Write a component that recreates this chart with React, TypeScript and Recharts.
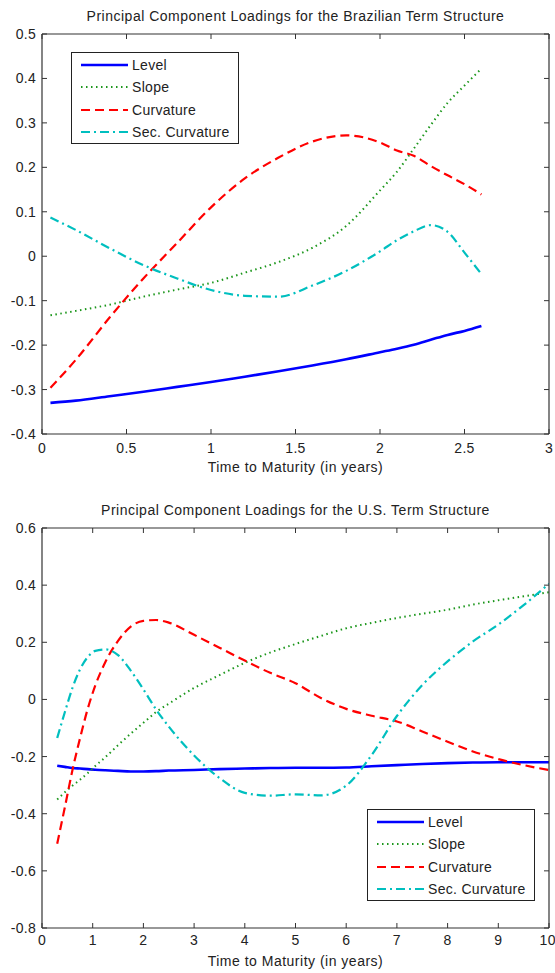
import React from "react";
import { Legend, Line, LineChart, XAxis, YAxis } from "recharts";

// Brazilian term structure loadings (maturity in years)
const brMaturity = [0.05, 0.2, 0.4, 0.6, 0.8, 1.0, 1.2, 1.4, 1.6, 1.8, 2.0, 2.1, 2.2, 2.3, 2.4, 2.5, 2.6];
const brLevel = [-0.33, -0.325, -0.315, -0.305, -0.294, -0.283, -0.271, -0.259, -0.246, -0.232, -0.216, -0.208, -0.199, -0.188, -0.177, -0.168, -0.157];
const brSlope = [-0.133, -0.123, -0.109, -0.091, -0.075, -0.06, -0.037, -0.013, 0.019, 0.068, 0.148, 0.19, 0.242, 0.295, 0.345, 0.384, 0.422];
const brCurvature = [-0.296, -0.233, -0.138, -0.05, 0.03, 0.11, 0.175, 0.222, 0.258, 0.272, 0.256, 0.238, 0.226, 0.203, 0.182, 0.162, 0.139];
const brSecCurvature = [0.087, 0.059, 0.018, -0.02, -0.05, -0.076, -0.089, -0.091, -0.066, -0.033, 0.011, 0.036, 0.056, 0.07, 0.055, 0.008, -0.04];

// U.S. term structure loadings
const usMaturity = [0.3, 0.45, 0.6, 0.75, 0.9, 1.05, 1.25, 1.5, 1.75, 2.0, 2.25, 2.5, 3, 3.5, 4, 4.5, 5, 5.5, 6, 6.5, 7, 7.5, 8, 8.5, 9, 9.5, 10];
const usLevel = [-0.232, -0.236, -0.24, -0.242, -0.244, -0.246, -0.248, -0.25, -0.252, -0.252, -0.251, -0.249, -0.247, -0.244, -0.242, -0.24, -0.239, -0.239, -0.238, -0.234, -0.23, -0.226, -0.223, -0.221, -0.22, -0.22, -0.22];
const usSlope = [-0.35, -0.325, -0.302, -0.281, -0.258, -0.233, -0.202, -0.16, -0.12, -0.082, -0.044, -0.015, 0.04, 0.085, 0.128, 0.164, 0.194, 0.222, 0.249, 0.268, 0.285, 0.3, 0.314, 0.332, 0.347, 0.361, 0.375];
const usCurvature = [-0.505, -0.378, -0.248, -0.136, -0.034, 0.048, 0.131, 0.205, 0.255, 0.275, 0.278, 0.269, 0.226, 0.181, 0.136, 0.093, 0.057, 0.005, -0.033, -0.057, -0.077, -0.112, -0.148, -0.182, -0.209, -0.23, -0.247];
const usSecCurvature = [-0.135, -0.045, 0.04, 0.105, 0.148, 0.17, 0.175, 0.155, 0.101, 0.035, -0.035, -0.095, -0.196, -0.275, -0.327, -0.337, -0.332, -0.336, -0.302, -0.195, -0.058, 0.05, 0.133, 0.203, 0.262, 0.33, 0.405];

const brXTicks = [0, 0.5, 1, 1.5, 2, 2.5, 3];
const brYTicks = [-0.4, -0.3, -0.2, -0.1, 0, 0.1, 0.2, 0.3, 0.4, 0.5];
const usXTicks = [0, 1, 2, 3, 4, 5, 6, 7, 8, 9, 10];
const usYTicks = [-0.8, -0.6, -0.4, -0.2, 0, 0.2, 0.4, 0.6];

const series = [
  { key: "level", name: "Level", color: "#0000ff", width: 2.6, dash: undefined },
  { key: "slope", name: "Slope", color: "#1b961b", width: 2, dash: "1.5 3.5" },
  { key: "curvature", name: "Curvature", color: "#ff0000", width: 2.2, dash: "9 5" },
  { key: "secCurvature", name: "Sec. Curvature", color: "#00bfbf", width: 2.2, dash: "9 4 2 4" },
];

const buildRows = (xs: number[], a: number[], b: number[], c: number[], d: number[]) =>
  xs.map((x, i) => ({ x, level: a[i], slope: b[i], curvature: c[i], secCurvature: d[i] }));

const brData = buildRows(brMaturity, brLevel, brSlope, brCurvature, brSecCurvature);
const usData = buildRows(usMaturity, usLevel, usSlope, usCurvature, usSecCurvature);

const FONT = "'Liberation Sans', Arial, Helvetica, sans-serif";
const AXIS = "#333";

function LegendBox() {
  return (
    <div
      style={{
        width: 166,
        height: 90,
        border: "1px solid #222",
        background: "#fff",
        position: "relative",
        fontFamily: FONT,
        fontSize: 14,
        letterSpacing: 0.3,
        color: "#222",
      }}
    >
      {series.map((s, i) => (
        <div key={s.key} style={{ position: "absolute", left: 0, top: 12 + i * 22.3 - 9, height: 18, display: "flex", alignItems: "center" }}>
          <svg width={60} height={18}>
            <line x1={9} x2={56} y1={9} y2={9} stroke={s.color} strokeWidth={s.width} strokeDasharray={s.dash} />
          </svg>
          <span style={{ lineHeight: "18px", whiteSpace: "nowrap" }}>{s.name}</span>
        </div>
      ))}
    </div>
  );
}

type PanelProps = {
  title: string;
  data: ReturnType<typeof buildRows>;
  xTicks: number[];
  yTicks: number[];
  top: number;
  height: number;
  plotTop: number;
  titleTop: number;
  tickGap: number;
  labelOffset: number;
  legendLeft: number;
  legendTop: number;
};

// top / right box axes: tick marks only, no labels
const noLabel = () => "";

function Panel(p: PanelProps) {
  const xDomain = [p.xTicks[0], p.xTicks[p.xTicks.length - 1]];
  const yDomain = [p.yTicks[0], p.yTicks[p.yTicks.length - 1]];
  const axisProps = {
    type: "number" as const,
    allowDataOverflow: true,
    stroke: AXIS,
    axisLine: { stroke: AXIS, strokeWidth: 1.2 },
    tickLine: { stroke: AXIS, strokeWidth: 1 },
    tickSize: -5,
  };
  const tickStyle = { fill: "#222", fontSize: 14, fontFamily: FONT, letterSpacing: 0.3 };
  const hiddenTick = { fontSize: 1, fill: "none" };
  return (
    <div style={{ position: "absolute", left: 0, top: p.top, width: 555, height: p.height }}>
      <div
        style={{
          position: "absolute",
          left: 42,
          width: 507,
          top: p.titleTop - p.top,
          height: 16,
          lineHeight: "16px",
          textAlign: "center",
          fontFamily: FONT,
          fontSize: 14,
          letterSpacing: 0.5,
          color: "#222",
          zIndex: 2,
        }}
      >
        {p.title}
      </div>
      <LineChart width={555} height={p.height} data={p.data} margin={{ top: p.plotTop - 1, right: 5, bottom: 0, left: 0 }}>
        <XAxis
          {...axisProps}
          dataKey="x"
          domain={xDomain}
          ticks={p.xTicks}
          height={p.height - p.plotTop - 400}
          tickMargin={p.tickGap + 5}
          tick={tickStyle}
          label={{
            value: "Time to Maturity (in years)",
            position: "insideBottom",
            offset: p.labelOffset,
            fill: "#222",
            fontSize: 14,
            fontFamily: FONT,
            letterSpacing: 0.5,
          }}
        />
        <XAxis
          {...axisProps}
          xAxisId="top"
          orientation="top"
          dataKey="x"
          domain={xDomain}
          ticks={p.xTicks}
          height={1}
          tick={hiddenTick}
          tickFormatter={noLabel}
        />
        <YAxis {...axisProps} domain={yDomain} ticks={p.yTicks} width={42} tickMargin={11} tick={tickStyle} />
        <YAxis
          {...axisProps}
          yAxisId="right"
          orientation="right"
          domain={yDomain}
          ticks={p.yTicks}
          width={1}
          tick={hiddenTick}
          tickFormatter={noLabel}
        />
        {series.map((s) => (
          <Line
            key={s.key}
            dataKey={s.key}
            name={s.name}
            type="monotone"
            stroke={s.color}
            strokeWidth={s.width}
            strokeDasharray={s.dash}
            dot={false}
            activeDot={false}
            isAnimationActive={false}
          />
        ))}
        <Legend
          layout="vertical"
          align="center"
          verticalAlign="middle"
          wrapperStyle={{ left: p.legendLeft, top: p.legendTop, width: 168, height: 92 }}
          content={() => <LegendBox />}
        />
      </LineChart>
    </div>
  );
}

export default function App() {
  return (
    <div style={{ position: "absolute", left: 0, top: 0, width: 555, height: 973, background: "#fff" }}>
      <Panel
        title="Principal Component Loadings for the Brazilian Term Structure"
        data={brData}
        xTicks={brXTicks}
        yTicks={brYTicks}
        top={0}
        height={480}
        plotTop={34}
        titleTop={8}
        tickGap={9}
        labelOffset={8}
        legendLeft={71}
        legendTop={52}
      />
      <Panel
        title="Principal Component Loadings for the U.S. Term Structure"
        data={usData}
        xTicks={usXTicks}
        yTicks={usYTicks}
        top={490}
        height={483}
        plotTop={38}
        titleTop={502}
        tickGap={7}
        labelOffset={7}
        legendLeft={367}
        legendTop={319}
      />
    </div>
  );
}
